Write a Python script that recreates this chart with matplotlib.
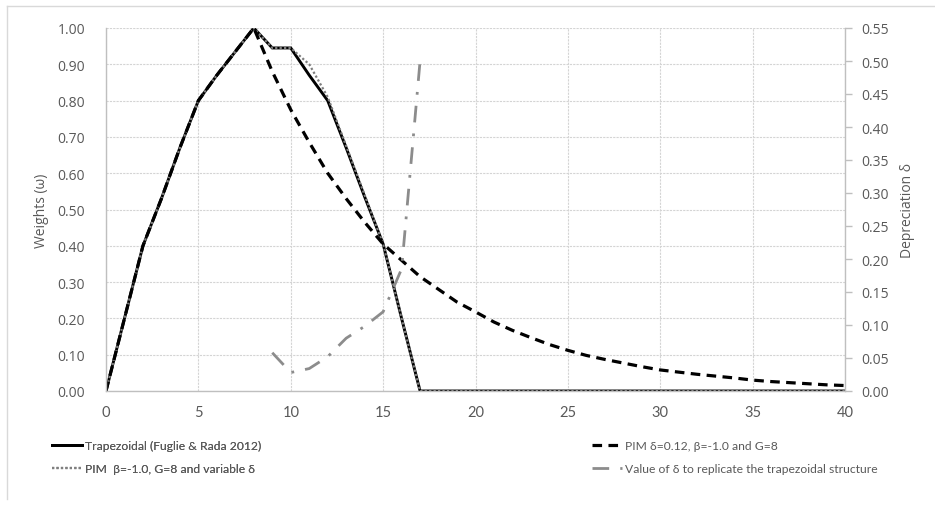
import matplotlib.pyplot as plt
from matplotlib.lines import Line2D
from matplotlib.ticker import FormatStrFormatter, MultipleLocator

# === Data ===
years = list(range(0, 41))

# Trapezoidal weights (Fuglie & Rada 2012)
trap = [0.00, 0.20, 0.40, 0.53, 0.67, 0.80, 0.87, 0.935, 1.00, 0.945, 0.945,
        0.87, 0.80, 0.67, 0.535, 0.405, 0.20, 0.00] + [0.00] * 23

# PIM delta=0.12, beta=-1.0, G=8
pim_fixed = [0.00, 0.20, 0.40, 0.53, 0.67, 0.80, 0.87, 0.935, 1.00, 0.88, 0.775,
             0.685, 0.60, 0.53, 0.465, 0.405, 0.36, 0.315, 0.28, 0.245, 0.218,
             0.19, 0.167, 0.147, 0.128, 0.112, 0.098, 0.087, 0.077, 0.067, 0.058,
             0.052, 0.046, 0.041, 0.036, 0.03, 0.026, 0.023, 0.02, 0.017, 0.015]

# PIM beta=-1.0, G=8 and variable delta
pim_var = [0.00, 0.20, 0.40, 0.53, 0.67, 0.80, 0.87, 0.935, 1.00, 0.945, 0.945,
           0.90, 0.81, 0.675, 0.54, 0.405, 0.20, 0.00] + [0.00] * 23

# Value of delta needed to replicate the trapezoid (right axis)
delta_years = [9, 10, 11, 12, 13, 14, 15, 16, 17]
delta_vals = [0.058, 0.028, 0.034, 0.052, 0.08, 0.098, 0.12, 0.185, 0.50]

labels = ["Trapezoidal (Fuglie & Rada 2012)",
          "PIM δ=0.12, β=-1.0 and G=8",
          "PIM  β=-1.0, G=8 and variable δ",
          "Value of δ to replicate the trapezoidal structure"]

# === Style ===
txt = '#595959'
grid_c = '#d4d4d4'
spine_c = '#bfbfbf'
plt.rcParams['font.family'] = ['Open Sans', 'DejaVu Sans']
narrow = ['Lato', 'DejaVu Sans']

fig = plt.figure(figsize=(9.35, 5.06), dpi=100)
ax = fig.add_axes([106 / 935, 1 - 392 / 506, (845 - 106) / 935, (392 - 29) / 506])
ax2 = ax.twinx()

l1, = ax.plot(years, trap, color='black', lw=2.1, solid_joinstyle='miter')
l3, = ax.plot(years, pim_var, color='#7f7f7f', lw=1.6, ls=(0, (1, 1)))
l2, = ax.plot(years, pim_fixed, color='black', lw=2.3, ls=(0, (3, 2)))
l4, = ax2.plot(delta_years, delta_vals, color='#8c8c8c', lw=2.0, ls=(0, (6, 4, 1, 4)))

ax.set_xlim(0, 40)
ax.set_ylim(0, 1.0)
ax2.set_ylim(0, 0.55)
ax.xaxis.set_major_locator(MultipleLocator(5))
ax.yaxis.set_major_locator(MultipleLocator(0.1))
ax2.yaxis.set_major_locator(MultipleLocator(0.05))
ax.yaxis.set_major_formatter(FormatStrFormatter('%.2f'))
ax2.yaxis.set_major_formatter(FormatStrFormatter('%.2f'))

ax.grid(True, color=grid_c, ls=(0, (2, 1)), lw=0.8)
ax.set_axisbelow(True)

for a in (ax, ax2):
    a.spines['top'].set_visible(False)
    for s in ('left', 'right', 'bottom'):
        a.spines[s].set_color(spine_c)
        a.spines[s].set_linewidth(1.0)
ax.spines['right'].set_visible(False)
ax2.spines['left'].set_visible(False)
ax2.spines['bottom'].set_visible(False)

ax.tick_params(axis='y', length=0, pad=15, labelsize=10, labelcolor=txt)
ax.tick_params(axis='x', length=0, pad=10, labelcolor=txt)
ax2.tick_params(axis='y', length=5, width=1, color=spine_c, pad=7, labelsize=10, labelcolor=txt)
for t in ax.get_xticklabels():
    t.set_fontfamily(narrow)
    t.set_fontsize(10.5)

ax.set_ylabel("Weights (ω)", color=txt, fontsize=10, labelpad=6)
ax2.set_ylabel("Depreciation δ", color=txt, fontsize=10, rotation=90, labelpad=8)

# === Legend (two columns placed as in the reference) ===
leg_kw = dict(frameon=False, handlelength=2.5, handletextpad=0.2, labelspacing=1.0,
              borderpad=0, borderaxespad=0,
              labelcolor=txt, prop={'family': narrow, 'size': 8.7}, loc='upper left')
leg1 = fig.legend([l1, l3], [labels[0], labels[2]],
                  bbox_to_anchor=(52 / 935, 1 - 441 / 506), **leg_kw)
fig.add_artist(leg1)
fig.legend([l2, l4], [labels[1], labels[3]],
           bbox_to_anchor=(592 / 935, 1 - 441 / 506), **leg_kw)

# outer chart frame
fig.add_artist(Line2D([7 / 935, 7 / 935], [1 - 7 / 506, 1 - 500 / 506], color='#d9d9d9', lw=1))
fig.add_artist(Line2D([7 / 935, 1.0], [1 - 7 / 506, 1 - 7 / 506], color='#d9d9d9', lw=1))

fig.savefig('out.png', dpi=100)
